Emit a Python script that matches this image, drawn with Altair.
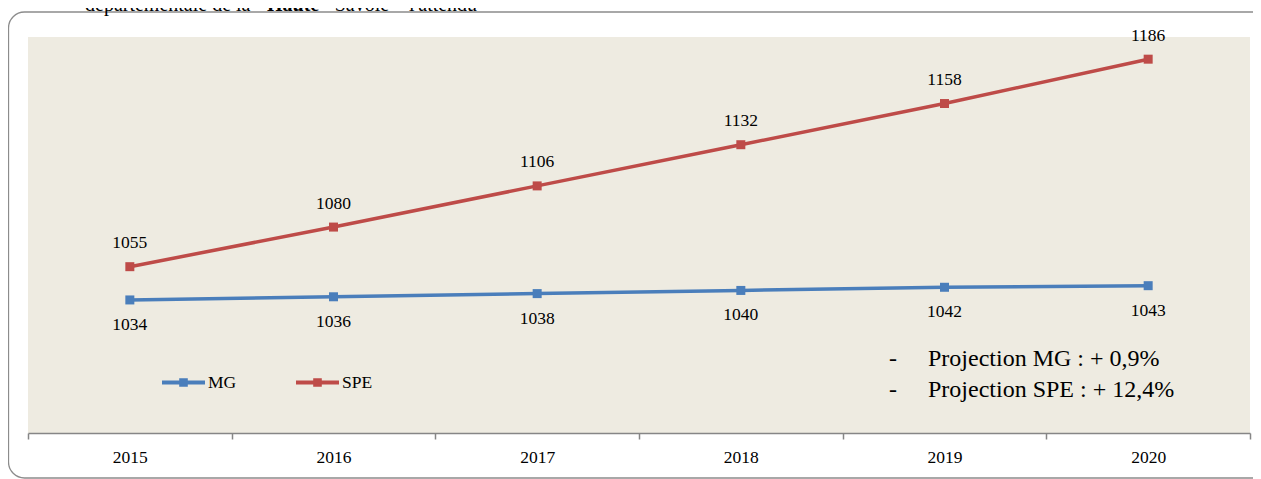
import altair as alt
import pandas as pd

years = ["2015", "2016", "2017", "2018", "2019", "2020"]
mg = [1034, 1036, 1038, 1040, 1042, 1043]
spe = [1055, 1080, 1106, 1132, 1158, 1186]
series = ["MG", "SPE"]
colors = ["#4A7EBB", "#BE4B48"]
notes = ["Projection MG : + 0,9%", "Projection SPE : + 12,4%"]
title_parts = ["départementale de la ", "Haute", "-Savoie – l'attendu"]

rows = []
for y, v in zip(years, mg):
    rows.append({"year": y, "value": v, "series": "MG"})
for y, v in zip(years, spe):
    rows.append({"year": y, "value": v, "series": "SPE"})
df = pd.DataFrame(rows)

FONT = "Liberation Serif"

x = alt.X("year:O", scale=alt.Scale(type="band", paddingInner=0, paddingOuter=0),
          axis=alt.Axis(title=None, labelAngle=0, tickBand="extent", tickSize=6,
                        labelPadding=9, labelFont=FONT, labelFontSize=17.5,
                        labelColor="#000000", domainColor="#868686", tickColor="#868686",
                        domainWidth=1.5, tickWidth=1.5, grid=False))
y = alt.Y("value:Q", scale=alt.Scale(domain=[950, 1200], nice=False, zero=False), axis=None)

legend_path = "M-1,-0.09H1V0.09H-1Z M-0.2,-0.2H0.2V0.2H-0.2Z"
color = alt.Color("series:N", scale=alt.Scale(domain=series, range=colors),
                  legend=alt.Legend(title=None, orient="none", direction="horizontal",
                                    legendX=134, legendY=324, symbolType=legend_path,
                                    symbolSize=1849, symbolStrokeWidth=0,
                                    labelFont=FONT, labelFontSize=17.5, labelColor="#000000",
                                    labelOffset=3, columnPadding=59))

base = alt.Chart(df).encode(x=x, y=y, color=color)
line = base.mark_line(strokeWidth=3.5)
pts = base.mark_point(shape="square", filled=True, size=81, opacity=1)
lab_mg = alt.Chart(df).transform_filter(alt.datum.series == "MG").mark_text(
    font=FONT, fontSize=17.5, dy=30, baseline="alphabetic", color="#000000"
).encode(x=x, y=y, text="value:Q")
lab_spe = alt.Chart(df).transform_filter(alt.datum.series == "SPE").mark_text(
    font=FONT, fontSize=17.5, dy=-18.5, baseline="alphabetic", color="#000000"
).encode(x=x, y=y, text="value:Q")

notes_df = pd.DataFrame({"t": notes, "i": [0, 1]})
NOTE_FS = 24
dash = alt.Chart(notes_df).transform_filter(alt.datum.i == 0).mark_text(
    font=FONT, fontSize=NOTE_FS, color="#000000", align="center", baseline="alphabetic"
).encode(text=alt.value("-"), x=alt.value(865), y=alt.value(329))
dash2 = alt.Chart(notes_df).transform_filter(alt.datum.i == 1).mark_text(
    font=FONT, fontSize=NOTE_FS, color="#000000", align="center", baseline="alphabetic"
).encode(text=alt.value("-"), x=alt.value(865), y=alt.value(360))
note1 = alt.Chart(notes_df).transform_filter(alt.datum.i == 0).mark_text(
    font=FONT, fontSize=NOTE_FS, color="#000000", align="left", baseline="alphabetic"
).encode(text="t:N", x=alt.value(900), y=alt.value(329))
note2 = alt.Chart(notes_df).transform_filter(alt.datum.i == 1).mark_text(
    font=FONT, fontSize=NOTE_FS, color="#000000", align="left", baseline="alphabetic"
).encode(text="t:N", x=alt.value(900), y=alt.value(360))

border = alt.Chart(notes_df).transform_filter(alt.datum.i == 0).mark_rect(
    fill=None, stroke="#8c8c8c", strokeWidth=1.3, cornerRadius=16
).encode(x=alt.value(-19.5), x2=alt.value(1260), y=alt.value(-25), y2=alt.value(441))

t1 = alt.Chart(notes_df).transform_filter(alt.datum.i == 0).mark_text(
    font=FONT, fontSize=20, color="#000000", align="left", baseline="alphabetic"
).encode(text=alt.value(title_parts[0]), x=alt.value(57), y=alt.value(-26))
t2 = alt.Chart(notes_df).transform_filter(alt.datum.i == 0).mark_text(
    font=FONT, fontSize=20, color="#000000", align="left", baseline="alphabetic", fontWeight="bold"
).encode(text=alt.value(title_parts[1]), x=alt.value(239), y=alt.value(-26))
t3 = alt.Chart(notes_df).transform_filter(alt.datum.i == 0).mark_text(
    font=FONT, fontSize=20, color="#000000", align="left", baseline="alphabetic"
).encode(text=alt.value(title_parts[2]), x=alt.value(300), y=alt.value(-26))

chart = alt.layer(border, t1, t2, t3, line, pts, lab_mg, lab_spe, dash, dash2, note1, note2).properties(
    width=1222, height=396,
    autosize=alt.AutoSizeParams(type="none"),
    padding={"left": 20, "top": 29, "right": 3, "bottom": 46},
    background="#ffffff",
).configure_view(fill="#EEEBE1", stroke=None)

chart.save("out.html", embed_options={"renderer": "svg", "actions": False})
